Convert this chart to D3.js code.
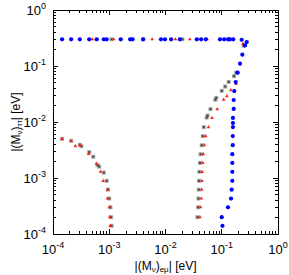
<!DOCTYPE html>
<html>
<head>
<meta charset="utf-8">
<script src="https://cdn.jsdelivr.net/npm/d3@7"></script>
<style>
  body { margin: 0; background: #fff; }
  text { font-family: "Liberation Sans", Arial, sans-serif; fill: #000; }
</style>
</head>
<body>
<div id="chart"></div>
<script>
// values: |(M_nu)_e mu| (x) and |(M_nu)_tau tau| (y), in eV
const xTicks = [1e-4, 1e-3, 1e-2, 1e-1, 1];
const yTicks = [1e-4, 1e-3, 1e-2, 1e-1, 1];
const tickExp = ["-4", "-3", "-2", "-1", "0"];

const grayX = [1.45e-4, 2.1e-4, 3.0e-4, 3.2e-4, 4.4e-4, 5.2e-4, 6.2e-4, 6.6e-4, 8.0e-4, 9.0e-4, 9.5e-4, 1.0e-3, 1.05e-3, 1.08e-3, 1.1e-3,
  1.1e-3, 4.0e-3, 2.0e-2, 0.13,
  0.245, 0.18, 0.165, 0.133, 0.115, 0.1, 0.08, 0.077, 0.063, 0.056, 0.054, 0.048, 0.046,
  0.044, 0.042, 0.041, 0.040, 0.0395, 0.039, 0.0385, 0.038, 0.037];
const grayY = [5.0e-3, 4.6e-3, 3.9e-3, 3.7e-3, 2.9e-3, 2.4e-3, 1.7e-3, 1.6e-3, 1.25e-3, 8.9e-4, 6.2e-4, 4.3e-4, 3.0e-4, 2.0e-4, 1.4e-4,
  0.3, 0.3, 0.3, 0.3,
  0.23, 0.076, 0.066, 0.052, 0.043, 0.036, 0.027, 0.025, 0.017, 0.013, 0.012, 0.0081, 0.0056,
  0.00385, 0.00266, 0.00186, 0.00129, 8.9e-4, 6.2e-4, 4.3e-4, 3.0e-4, 2.0e-4, 1.4e-4];

const redX = [1.45e-4, 2.1e-4, 2.5e-4, 3.0e-4, 4.3e-4, 5.9e-4, 7.0e-4, 7.8e-4, 9.3e-4, 9.3e-4, 1.0e-3, 1.02e-3, 1.04e-3,
  5.0e-4, 5.8e-4, 1.2e-3, 2.5e-3, 5.8e-3, 1.5e-2, 2.7e-2, 5.5e-2, 0.135, 0.24,
  0.18, 0.145, 0.123, 0.108, 0.083, 0.067, 0.058, 0.052, 0.049, 0.047, 0.046,
  0.045, 0.0445, 0.044, 0.0435, 0.042, 0.041];
const redY = [5.0e-3, 4.6e-3, 3.7e-3, 3.9e-3, 2.7e-3, 1.8e-3, 1.3e-3, 8.9e-4, 6.2e-4, 4.3e-4, 3.0e-4, 2.0e-4, 1.4e-4,
  0.3, 0.3, 0.3, 0.3, 0.3, 0.3, 0.3, 0.3, 0.3, 0.25,
  0.048, 0.037, 0.029, 0.025, 0.017, 0.0118, 0.0081, 0.0056, 0.00385, 0.00266, 0.00186,
  0.00129, 8.9e-4, 6.2e-4, 4.3e-4, 3.0e-4, 2.0e-4];

const blueX = [1.45e-4, 2.1e-4, 3.0e-4, 4.4e-4, 6.0e-4, 8.0e-4, 9.0e-4, 1.6e-3, 2.35e-3, 2.6e-3, 4.0e-3, 8.3e-3, 9.8e-3, 1.26e-2, 1.8e-2,
  3.6e-2, 4.3e-2, 5.2e-2, 9.3e-2, 0.11, 0.13, 0.14, 0.16,
  0.226, 0.278, 0.259, 0.232, 0.211, 0.192, 0.177, 0.167, 0.163, 0.163, 0.158, 0.158, 0.158,
  0.157, 0.157, 0.154, 0.154, 0.154, 0.154, 0.150, 0.146, 0.129, 0.10, 0.103];
const blueY = [0.3, 0.3, 0.3, 0.3, 0.3, 0.3, 0.3, 0.3, 0.3, 0.3, 0.3, 0.3, 0.3, 0.3, 0.3,
  0.3, 0.3, 0.3, 0.3, 0.3, 0.3, 0.3, 0.3,
  0.294, 0.267, 0.233, 0.159, 0.11, 0.076, 0.0516, 0.0357, 0.0247, 0.0171, 0.0118, 0.0096, 0.0081,
  0.0056, 0.00385, 0.00266, 0.00186, 0.00129, 8.9e-4, 6.2e-4, 4.3e-4, 3.0e-4, 2.0e-4, 1.4e-4];

const width = 289, height = 275;
const margin = { top: 10, right: 11, bottom: 41, left: 53 };

const svg = d3.select("#chart").append("svg")
  .attr("width", width)
  .attr("height", height);

const x = d3.scaleLog().domain([1e-4, 1]).range([margin.left, width - margin.right]);
const y = d3.scaleLog().domain([1e-4, 1]).range([height - margin.bottom, margin.top]);

// minor ticks: 2..9 in each decade
const minors = [];
for (let e = -4; e < 0; e++) for (let m = 2; m <= 9; m++) minors.push(m * Math.pow(10, e));

const frame = svg.append("g").attr("stroke", "#000").attr("stroke-width", 1).attr("shape-rendering", "crispEdges");
frame.append("rect")
  .attr("x", x(1e-4)).attr("y", y(1))
  .attr("width", x(1) - x(1e-4)).attr("height", y(1e-4) - y(1))
  .attr("fill", "none");

const x0 = x(1e-4), x1 = x(1), y0 = y(1e-4), y1 = y(1);
xTicks.concat(minors).forEach(v => {
  const len = xTicks.includes(v) ? 5 : 3;
  frame.append("line").attr("x1", x(v)).attr("x2", x(v)).attr("y1", y0).attr("y2", y0 - len);
  frame.append("line").attr("x1", x(v)).attr("x2", x(v)).attr("y1", y1).attr("y2", y1 + len);
});
yTicks.concat(minors).forEach(v => {
  const len = yTicks.includes(v) ? 5 : 3;
  frame.append("line").attr("y1", y(v)).attr("y2", y(v)).attr("x1", x0).attr("x2", x0 + len);
  frame.append("line").attr("y1", y(v)).attr("y2", y(v)).attr("x1", x1).attr("x2", x1 - len);
});

// tick labels 10^n
xTicks.forEach((v, i) => {
  const t = svg.append("text")
    .attr("x", x(v)).attr("y", y0 + 20)
    .attr("text-anchor", "middle")
    .attr("font-size", 13);
  t.append("tspan").text("10");
  t.append("tspan").attr("dy", -6).attr("font-size", 9).text(tickExp[i]);
});
yTicks.forEach((v, i) => {
  const t = svg.append("text")
    .attr("x", x0 - 7).attr("y", y(v) + 5)
    .attr("text-anchor", "end")
    .attr("font-size", 13);
  t.append("tspan").text("10");
  t.append("tspan").attr("dy", -6).attr("font-size", 9).text(tickExp[i]);
});

// axis titles
const xt = svg.append("text")
  .attr("x", (x0 + x1) / 2).attr("y", height - 5)
  .attr("text-anchor", "middle")
  .attr("font-size", 12);
xt.append("tspan").text("|(M");
xt.append("tspan").attr("dy", 2).attr("font-size", 8).text("ν");
xt.append("tspan").attr("dy", -2).text(")");
xt.append("tspan").attr("dy", 2).attr("font-size", 8).text("eμ");
xt.append("tspan").attr("dy", -2).text("|  [eV]");

const yt = svg.append("text")
  .attr("transform", `translate(20,${(y0 + y1) / 2}) rotate(-90)`)
  .attr("text-anchor", "middle")
  .attr("font-size", 12);
yt.append("tspan").text("|(M");
yt.append("tspan").attr("dy", 2).attr("font-size", 8).text("ν");
yt.append("tspan").attr("dy", -2).text(")");
yt.append("tspan").attr("dy", 2).attr("font-size", 8).text("ττ");
yt.append("tspan").attr("dy", -2).text("|  [eV]");

// points
const pts = svg.append("g");
const gray = d3.zip(grayX, grayY);
const red = d3.zip(redX, redY);
const blue = d3.zip(blueX, blueY);

pts.append("g").selectAll("rect")
  .data(gray).join("rect")
  .attr("x", d => x(d[0]) - 2).attr("y", d => y(d[1]) - 2)
  .attr("width", 4).attr("height", 4)
  .attr("fill", "#aaaaaa");
pts.append("g").selectAll("rect")
  .data(gray).join("rect")
  .attr("x", d => x(d[0]) - 1).attr("y", d => y(d[1]) - 1)
  .attr("width", 2).attr("height", 2)
  .attr("fill", "#444");

const tri = d3.symbol().type(d3.symbolTriangle).size(6);
pts.append("g").selectAll("path")
  .data(red).join("path")
  .attr("transform", d => `translate(${x(d[0])},${y(d[1])})`)
  .attr("d", tri)
  .attr("fill", "#ff2020");

pts.append("g").selectAll("circle")
  .data(blue).join("circle")
  .attr("cx", d => x(d[0])).attr("cy", d => y(d[1]))
  .attr("r", 2.1)
  .attr("fill", "#0000ff");
</script>
</body>
</html>
